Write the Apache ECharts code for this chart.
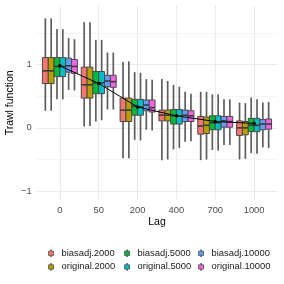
<!DOCTYPE html>
<html><head><meta charset="utf-8">
<script src="https://cdn.jsdelivr.net/npm/echarts@6/dist/echarts.min.js"></script>
<style>html,body{margin:0;padding:0;background:#fff}#c{width:284px;height:284px}</style>
</head><body><div id="c"></div><script>
// ---- data ----
const lagLabels = ['0', '50', '200', '400', '700', '1000'];
const groupNames = ['biasadj.2000', 'original.2000', 'biasadj.5000', 'original.5000', 'biasadj.10000', 'original.10000'];
const groupColors = ['#F8766D', '#B79F00', '#00BA38', '#00BFC4', '#619CFF', '#F564E3'];
// each row: [lower whisker, Q1, median, Q3, upper whisker] for lags 0,50,200,400,700,1000
const biasadj2000 = [[0.27, 0.70, 0.90, 1.11, 1.73], [0.02, 0.47, 0.68, 0.96, 1.67], [-0.48, 0.10, 0.28, 0.47, 1.04], [-0.51, 0.11, 0.20, 0.28, 0.77], [-0.51, -0.10, 0.03, 0.18, 0.57], [-0.50, -0.12, 0.00, 0.11, 0.40]];
const original2000 = [[0.27, 0.70, 0.90, 1.11, 1.73], [0.03, 0.47, 0.68, 0.96, 1.67], [-0.48, 0.10, 0.28, 0.47, 1.05], [-0.50, 0.11, 0.20, 0.28, 0.74], [-0.50, -0.09, 0.04, 0.17, 0.57], [-0.49, -0.11, 0.00, 0.10, 0.39]];
const biasadj5000 = [[0.45, 0.81, 0.97, 1.11, 1.56], [0.10, 0.54, 0.71, 0.89, 1.39], [-0.19, 0.20, 0.34, 0.45, 0.88], [-0.34, 0.06, 0.19, 0.29, 0.68], [-0.35, -0.03, 0.08, 0.19, 0.53], [-0.40, -0.06, 0.04, 0.15, 0.48]];
const original5000 = [[0.45, 0.81, 0.97, 1.11, 1.56], [0.12, 0.54, 0.71, 0.89, 1.39], [-0.20, 0.20, 0.33, 0.45, 0.87], [-0.32, 0.06, 0.19, 0.29, 0.65], [-0.36, -0.03, 0.08, 0.19, 0.53], [-0.41, -0.06, 0.04, 0.15, 0.45]];
const biasadj10000 = [[0.60, 0.88, 0.98, 1.10, 1.42], [0.29, 0.65, 0.74, 0.83, 1.19], [-0.03, 0.27, 0.36, 0.44, 0.77], [-0.22, 0.10, 0.20, 0.28, 0.57], [-0.27, 0.01, 0.11, 0.18, 0.45], [-0.31, -0.03, 0.06, 0.13, 0.40]];
const original10000 = [[0.59, 0.86, 0.97, 1.08, 1.40], [0.29, 0.64, 0.73, 0.83, 1.19], [-0.04, 0.25, 0.32, 0.44, 0.76], [-0.21, 0.10, 0.19, 0.27, 0.54], [-0.27, 0.01, 0.10, 0.18, 0.45], [-0.32, -0.02, 0.06, 0.14, 0.41]];
const trendValues = [0.98, 0.70, 0.33, 0.19, 0.10, 0.07];
const yTickValues = [-1, 0, 1];
const yTickLabels = ['\u22121', '0', '1'];
const yMinorValues = [-0.5, 0.5, 1.5];

// ---- build ----
const groupData = [biasadj2000, original2000, biasadj5000, original5000, biasadj10000, original10000];
const DODGE = 0.15, HALF = 0.075;

function makeRender(g) {
  return function (params, api) {
    const xi = api.value(0);
    const xc = xi + (g - 2.5) * DODGE;
    const cx = api.coord([xc, 0])[0];
    const xl = api.coord([xc - HALF, 0])[0];
    const xr = api.coord([xc + HALF, 0])[0];
    const yLow = api.coord([xc, api.value(1)])[1];
    const yQ1 = api.coord([xc, api.value(2)])[1];
    const yMed = api.coord([xc, api.value(3)])[1];
    const yQ3 = api.coord([xc, api.value(4)])[1];
    const yHigh = api.coord([xc, api.value(5)])[1];
    const wStyle = { stroke: '#5e5e5e', lineWidth: 1.7 };
    return {
      type: 'group',
      children: [
        { type: 'line', shape: { x1: cx, y1: yHigh, x2: cx, y2: yQ3 }, style: wStyle },
        { type: 'line', shape: { x1: cx, y1: yQ1, x2: cx, y2: yLow }, style: wStyle },
        { type: 'rect', shape: { x: xl, y: yQ3, width: xr - xl, height: yQ1 - yQ3 },
          style: { fill: groupColors[g], stroke: '#4a4a4a', lineWidth: 1 } },
        { type: 'line', shape: { x1: xl, y1: yMed, x2: xr, y2: yMed }, style: { stroke: '#3a3a3a', lineWidth: 1.6 } }
      ]
    };
  };
}

const series = groupData.map((arr, g) => ({
  name: groupNames[g],
  type: 'custom',
  z: 3,
  itemStyle: { color: groupColors[g] },
  renderItem: makeRender(g),
  data: arr.map((r, i) => [i, r[0], r[1], r[2], r[3], r[4]])
}));

const gridMarks = [];
yTickValues.forEach(v => gridMarks.push({ yAxis: v, lineStyle: { color: '#EBEBEB', width: 1.1 } }));
yMinorValues.forEach(v => gridMarks.push({ yAxis: v, lineStyle: { color: '#F3F3F3', width: 0.8 } }));
lagLabels.forEach((l, i) => gridMarks.push({ xAxis: i, lineStyle: { color: '#EBEBEB', width: 1.1 } }));

series.unshift({
  name: 'grid', type: 'line', data: [], silent: true, z: 1,
  markLine: { silent: true, symbol: ['none', 'none'], z: 1, animation: false,
    label: { show: false }, lineStyle: { type: 'solid' }, data: gridMarks }
});

series.push({
  name: 'trend', type: 'line', z: 5,
  data: trendValues.map((v, i) => [i, v]),
  lineStyle: { color: '#000', width: 1 },
  itemStyle: { color: '#000' },
  symbol: 'circle', symbolSize: 3.5, showSymbol: true
});

const iconPath = 'path://M3,0H4V2H7V8H4V10H3V8H0V2H3Z';
function legendCol(left, names) {
  return {
    orient: 'vertical', left: left, top: 247.8, padding: 0, itemWidth: 7, itemHeight: 7, itemGap: 2.6,
    icon: iconPath,
    itemStyle: { borderColor: '#4a4a4a', borderWidth: 0.8 },
    textStyle: { fontSize: 9.4, color: '#1a1a1a', fontFamily: 'Liberation Sans', lineHeight: 11, padding: [0, 0, 0, 2] },
    data: names, selectedMode: false
  };
}

const option = {
  animation: false,
  textStyle: { fontFamily: 'Liberation Sans' },
  grid: { left: 36.6, right: 6.6, top: 5.7, bottom: 84, containLabel: false, outerBoundsMode: 'none' },
  xAxis: {
    type: 'value', min: -0.6, max: 5.6,
    axisLine: { show: false }, axisTick: { show: false }, splitLine: { show: false },
    axisLabel: { customValues: lagLabels.map((l, i) => i), formatter: v => lagLabels[Math.round(v)],
      color: '#4d4d4d', fontSize: 9.4, margin: 6 },
    name: 'Lag', nameLocation: 'middle', nameGap: 17, nameMoveOverlap: false,
    nameTextStyle: { color: '#000', fontSize: 10.5 }
  },
  yAxis: {
    type: 'value', min: -1.14, max: 1.93,
    axisLine: { show: false }, axisTick: { show: false }, splitLine: { show: false },
    axisLabel: { customValues: yTickValues, formatter: v => yTickLabels[yTickValues.indexOf(Math.round(v))],
      color: '#4d4d4d', fontSize: 9.4, margin: 5 },
    name: 'Trawl function', nameLocation: 'middle', nameGap: 21, nameMoveOverlap: false,
    nameTextStyle: { color: '#000', fontSize: 10.5 }
  },
  legend: [
    legendCol(48.2, [groupNames[0], groupNames[1]]),
    legendCol(124.2, [groupNames[2], groupNames[3]]),
    legendCol(198.2, [groupNames[4], groupNames[5]])
  ],
  series: series
};
const chart = echarts.init(document.getElementById('c'), null, { renderer: 'canvas' });
chart.setOption(option);
</script></body></html>
